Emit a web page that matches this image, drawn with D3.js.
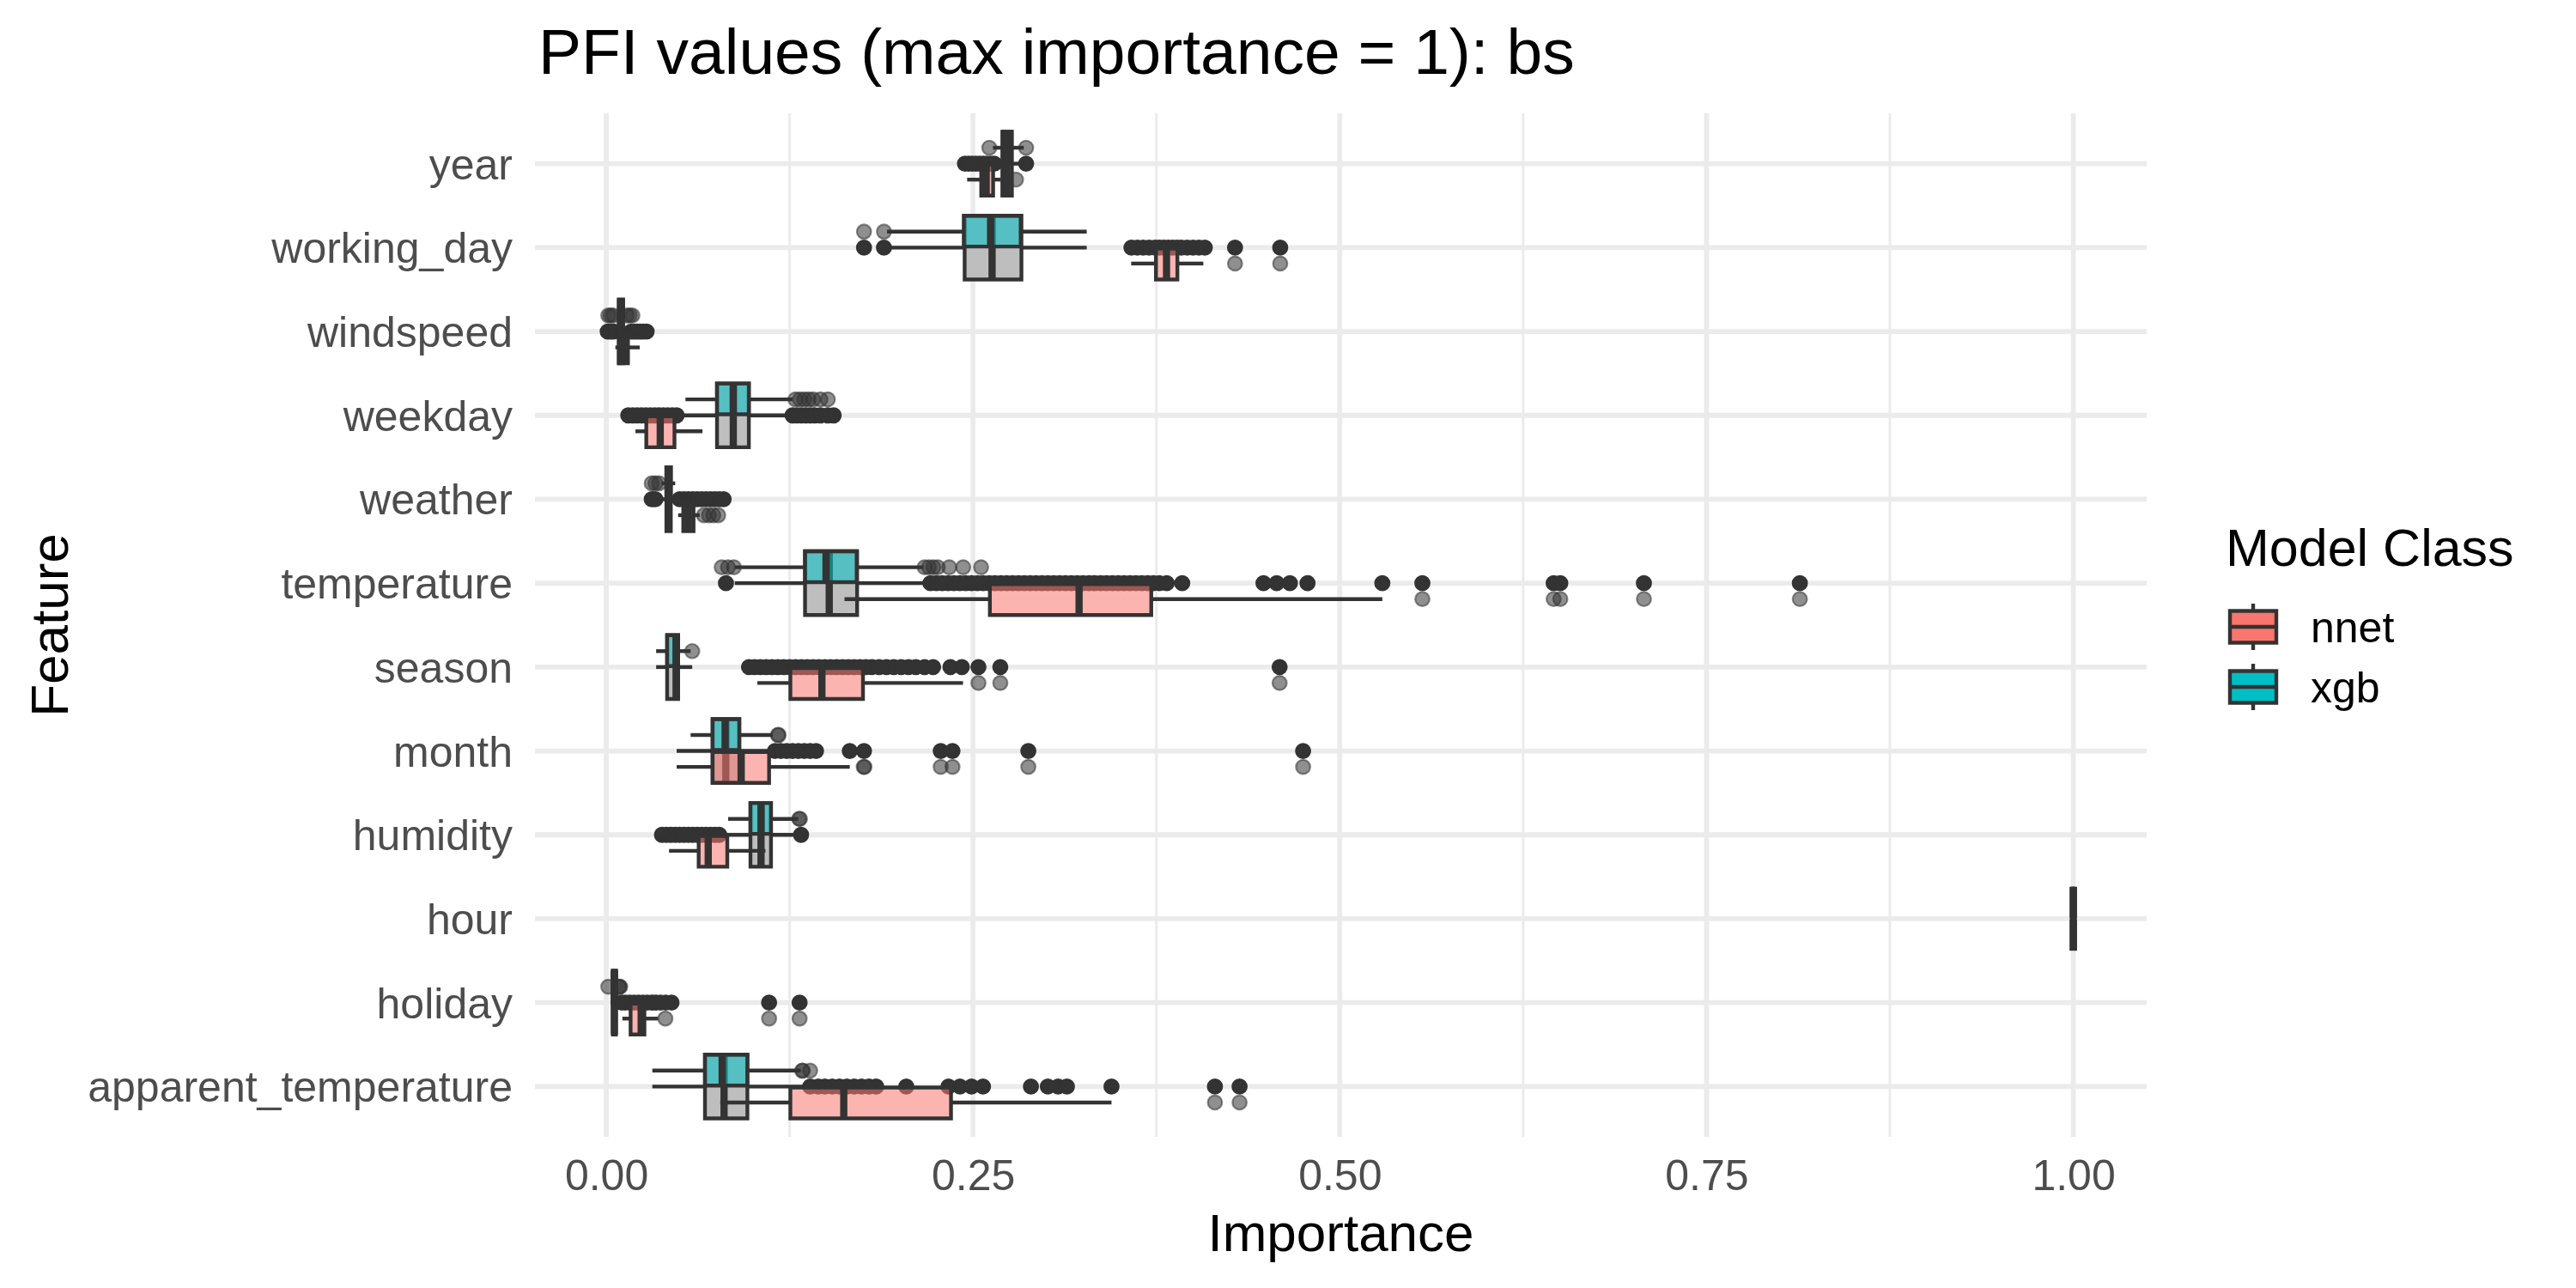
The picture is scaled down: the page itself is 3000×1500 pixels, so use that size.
<!DOCTYPE html>
<html><head><meta charset="utf-8">
<script src="https://cdn.jsdelivr.net/npm/d3@7"></script>
<style>body{margin:0;background:#fff}</style>
</head><body><svg id="c" width="3000" height="1500"></svg>
<script>
// ---------------- data ----------------
const features = ["year","working_day","windspeed","weekday","weather","temperature",
  "season","month","humidity","hour","holiday","apparent_temperature"];
const modelClasses = ["nnet","xgb"];
const tickValues = [0, 0.25, 0.5, 0.75, 1.0];
const minorTickValues = [0.125, 0.375, 0.625, 0.875];

// five-number summaries: [lower whisker, q1, median, q3, upper whisker]
const allStats = [
  [0.2650,0.2700,0.2730,0.2765,0.2840],
  [0.1914,0.2443,0.2630,0.2830,0.3275],
  [0.0055,0.0085,0.0100,0.0115,0.0160],
  [0.0490,0.0755,0.0866,0.0972,0.1250],
  [0.0365,0.0410,0.0425,0.0440,0.0490],
  [0.0876,0.1355,0.1520,0.1710,0.2190],
  [0.0340,0.0415,0.0476,0.0490,0.0586],
  [0.0480,0.0725,0.0815,0.0907,0.1117],
  [0.0802,0.0983,0.1055,0.1123,0.1308],
  [1.0,1.0,1.0,1.0,1.0],
  [0.0030,0.0045,0.0055,0.0066,0.0080],
  [0.0314,0.0673,0.0803,0.0962,0.1340]
];
const xgbStats = [
  [0.2636,0.2705,0.2730,0.2760,0.2846],
  [0.1914,0.2437,0.2620,0.2825,0.3275],
  [0.0070,0.0088,0.0100,0.0113,0.0125],
  [0.0540,0.0755,0.0866,0.0972,0.1270],
  [0.0380,0.0410,0.0425,0.0440,0.0470],
  [0.0876,0.1355,0.1498,0.1707,0.2162],
  [0.0340,0.0415,0.0476,0.0490,0.0575],
  [0.0575,0.0725,0.0810,0.0907,0.1135],
  [0.0831,0.0983,0.1055,0.1123,0.1308],
  [1.0,1.0,1.0,1.0,1.0],
  [0.0030,0.0045,0.0055,0.0066,0.0078],
  [0.0314,0.0673,0.0790,0.0962,0.1326]
];
const nnetStats = [
  [0.2460,0.2556,0.2590,0.2637,0.2690],
  [0.3578,0.3747,0.3819,0.3893,0.4070],
  [0.0062,0.0088,0.0115,0.0148,0.0228],
  [0.0199,0.0273,0.0368,0.0465,0.0656],
  [0.0490,0.0525,0.0560,0.0595,0.0637],
  [0.1624,0.2615,0.3223,0.3715,0.5290],
  [0.1030,0.1255,0.1470,0.1750,0.2432],
  [0.0480,0.0725,0.0920,0.1110,0.1660],
  [0.0428,0.0630,0.0695,0.0825,0.1085],
  [1.0,1.0,1.0,1.0,1.0],
  [0.0110,0.0166,0.0238,0.0260,0.0354],
  [0.0777,0.1255,0.1619,0.2350,0.3444]
];

// outliers
const allOutliers = [
  [0.2445,0.2470,0.2495,0.2520,0.2545,0.2570,0.2595,0.2620,0.2645,0.2862],
  [0.1757,0.1893,0.358,0.362,0.366,0.370,0.374,0.377,0.380,0.383,0.386,0.389,0.392,0.396,0.400,0.404,0.408,0.4286,0.4594],
  [0.0010,0.0030,0.0050,0.0170,0.0190,0.0210,0.0230,0.0250,0.0275],
  [0.015,0.018,0.021,0.024,0.027,0.030,0.033,0.036,0.039,0.042,0.045,0.048,0.127,0.130,0.133,0.136,0.139,0.142,0.146,0.151,0.155],
  [0.031,0.0335,0.050,0.053,0.056,0.059,0.062,0.065,0.068,0.071,0.074,0.077,0.080],
  [0.0816,0.221,0.225,0.229,0.233,0.237,0.241,0.245,0.249,0.253,0.257,0.261,0.265,0.269,0.273,0.277,0.281,0.285,0.289,0.293,0.297,0.301,0.305,0.309,0.313,0.317,0.321,0.325,0.329,0.333,0.337,0.341,0.345,0.349,0.353,0.357,0.361,0.365,0.369,0.373,0.377,0.382,0.3926,0.448,0.457,0.466,0.478,0.529,0.5563,0.6458,0.6503,0.7073,0.8136],
  [0.0973,0.101,0.105,0.109,0.113,0.117,0.121,0.125,0.129,0.133,0.137,0.141,0.145,0.149,0.153,0.157,0.161,0.165,0.169,0.173,0.177,0.181,0.186,0.191,0.196,0.201,0.206,0.211,0.217,0.2228,0.2346,0.2424,0.2537,0.2686,0.459],
  [0.115,0.119,0.123,0.127,0.131,0.135,0.139,0.143,0.166,0.1757,0.228,0.236,0.2877,0.475],
  [0.038,0.041,0.044,0.047,0.050,0.053,0.056,0.059,0.062,0.065,0.068,0.071,0.074,0.077,0.1328],
  [],
  [0.0105,0.013,0.016,0.019,0.022,0.025,0.028,0.031,0.034,0.037,0.0405,0.0445,0.111,0.1318],
  [0.139,0.1445,0.149,0.154,0.159,0.164,0.169,0.174,0.179,0.184,0.2045,0.2333,0.2411,0.249,0.2568,0.2895,0.301,0.308,0.314,0.3444,0.4149,0.4317]
];
const xgbOutliers = [
  [0.2611,0.2862],
  [0.1757,0.1893],
  [0.0014,0.0030,0.0048,0.0140,0.0160,0.0178],
  [0.1290,0.1320,0.1350,0.1380,0.1410,0.1460,0.1510],
  [0.0310,0.0335,0.0360],
  [0.0787,0.0830,0.0870,0.2170,0.2200,0.2230,0.2260,0.2338,0.2433,0.2555],
  [0.0586],
  [0.1170,0.1175],
  [0.1315,0.1320],
  [],
  [0.0014,0.0085,0.0090,0.0095],
  [0.1335,0.1340,0.1390]
];
const nnetOutliers = [
  [0.2793],
  [0.4286,0.4594],
  [],
  [],
  [0.0666,0.0700,0.0730,0.0763],
  [0.5563,0.6458,0.6503,0.7073,0.8136],
  [0.2537,0.2686,0.459],
  [0.1755,0.1760,0.2280,0.2360,0.2877,0.4750],
  [],
  [],
  [0.0403,0.1110,0.1318],
  [0.4149,0.4317]
];

// ---------------- drawing ----------------
const FONT = "'Liberation Sans', Arial, Helvetica, sans-serif";
const INK = "#333333";
const colors = {nnet: "#F8766D", xgb: "#00BFC4"};
const svg = d3.select("#c");
svg.append("rect").attr("width",3000).attr("height",1500).attr("fill","#fff");

const panelTop = 132, panelBottom = 1324, panelLeft = 623, panelRight = 2500;
const x = d3.scaleLinear().domain([-0.0486, 1.05]).range([panelLeft, panelRight]);
const y = d3.scalePoint().domain(features).range([panelTop, panelBottom]).padding(0.6);
const u = y.step();

// grid
const grid = svg.append("g");
grid.selectAll(".minor").data(minorTickValues).join("line")
  .attr("x1", d => x(d)).attr("x2", d => x(d)).attr("y1", panelTop).attr("y2", panelBottom)
  .attr("stroke", "#EBEBEB").attr("stroke-width", 3);
grid.selectAll(".major").data(tickValues).join("line")
  .attr("x1", d => x(d)).attr("x2", d => x(d)).attr("y1", panelTop).attr("y2", panelBottom)
  .attr("stroke", "#EBEBEB").attr("stroke-width", 5.8);
grid.selectAll(".hz").data(features).join("line")
  .attr("x1", panelLeft).attr("x2", panelRight).attr("y1", d => y(d)).attr("y2", d => y(d))
  .attr("stroke", "#EBEBEB").attr("stroke-width", 5.8);

function boxPath(x1, x2, y1, y2) {
  return `M${x1},${y1}H${x2}V${y2}H${x1}Z`;
}
function drawLayer(g, stats, outliers, offTop, offBot, offW, fill, fop, pop) {
  features.forEach((f, i) => {
    const c = y(f);
    const [lo, q1, md, q3, hi] = stats[i];
    const wy = c + offW * u;
    const y1 = c + offTop * u, y2 = c + offBot * u;
    g.append("g").selectAll("circle").data(outliers[i]).join("circle")
      .attr("cx", d => x(d)).attr("cy", wy).attr("r", 8.3)
      .attr("fill", INK).attr("fill-opacity", pop)
      .attr("stroke", INK).attr("stroke-opacity", pop).attr("stroke-width", 2.2);
    g.append("line").attr("x1", x(lo)).attr("x2", x(q1)).attr("y1", wy).attr("y2", wy)
      .attr("stroke", INK).attr("stroke-width", 4.4);
    g.append("line").attr("x1", x(q3)).attr("x2", x(hi)).attr("y1", wy).attr("y2", wy)
      .attr("stroke", INK).attr("stroke-width", 4.4);
    g.append("path").attr("d", boxPath(x(q1), x(q3), y1, y2))
      .attr("fill", fill).attr("fill-opacity", fop)
      .attr("stroke", INK).attr("stroke-width", 4.4).attr("stroke-linejoin", "miter");
    g.append("line").attr("x1", x(md)).attr("x2", x(md)).attr("y1", y1).attr("y2", y2)
      .attr("stroke", INK).attr("stroke-width", 8.4);
  });
}
const layerAll = svg.append("g");
drawLayer(layerAll, allStats, allOutliers, -0.38, 0.38, 0, "#BEBEBE", 1, 1);
const layerCls = svg.append("g");
drawLayer(layerCls, nnetStats, nnetOutliers, 0.012, 0.38, 0.19, colors.nnet, 0.55, 0.55);
drawLayer(layerCls, xgbStats, xgbOutliers, -0.38, -0.012, -0.19, colors.xgb, 0.55, 0.55);

// axes
const xAxis = svg.append("g").attr("transform", `translate(0,${panelBottom})`)
  .call(d3.axisBottom(x).tickValues(tickValues).tickFormat(d3.format(".2f")).tickSize(0).tickPadding(26));
xAxis.select(".domain").remove();
xAxis.selectAll("text").attr("font-family", FONT).attr("font-size", 50).attr("fill", "#4D4D4D");

const yAxis = svg.append("g").attr("transform", `translate(${panelLeft},0)`)
  .call(d3.axisLeft(y).tickSize(0).tickPadding(26));
yAxis.select(".domain").remove();
yAxis.selectAll("text").attr("font-family", FONT).attr("font-size", 50).attr("fill", "#4D4D4D")
  .attr("dy", "0.35em");

// titles
svg.append("text").attr("x", 627).attr("y", 86).attr("font-family", FONT)
  .attr("font-size", 75).attr("fill", "#000").text("PFI values (max importance = 1): bs");
svg.append("text").attr("x", (panelLeft + panelRight) / 2).attr("y", 1457).attr("text-anchor", "middle")
  .attr("font-family", FONT).attr("font-size", 62).attr("fill", "#000").text("Importance");
svg.append("text").attr("transform", `translate(79,${(panelTop + panelBottom) / 2}) rotate(-90)`)
  .attr("text-anchor", "middle").attr("font-family", FONT).attr("font-size", 62)
  .attr("fill", "#000").text("Feature");

// legend
const lg = svg.append("g");
lg.append("text").attr("x", 2592).attr("y", 659).attr("font-family", FONT)
  .attr("font-size", 61).attr("fill", "#000").text("Model Class");
modelClasses.forEach((m, i) => {
  const cy = 730 + i * 70;
  const kx = 2624;
  lg.append("line").attr("x1", kx).attr("x2", kx).attr("y1", cy - 27).attr("y2", cy + 27)
    .attr("stroke", INK).attr("stroke-width", 4.4);
  lg.append("path").attr("d", boxPath(kx - 27, kx + 27, cy - 18.5, cy + 18.5))
    .attr("fill", colors[m]).attr("stroke", INK).attr("stroke-width", 4.4);
  lg.append("line").attr("x1", kx - 27).attr("x2", kx + 27).attr("y1", cy).attr("y2", cy)
    .attr("stroke", INK).attr("stroke-width", 4.4);
  lg.append("text").attr("x", 2691).attr("y", cy + 18).attr("font-family", FONT)
    .attr("font-size", 50).attr("fill", "#000").text(m);
});
</script></body></html>
